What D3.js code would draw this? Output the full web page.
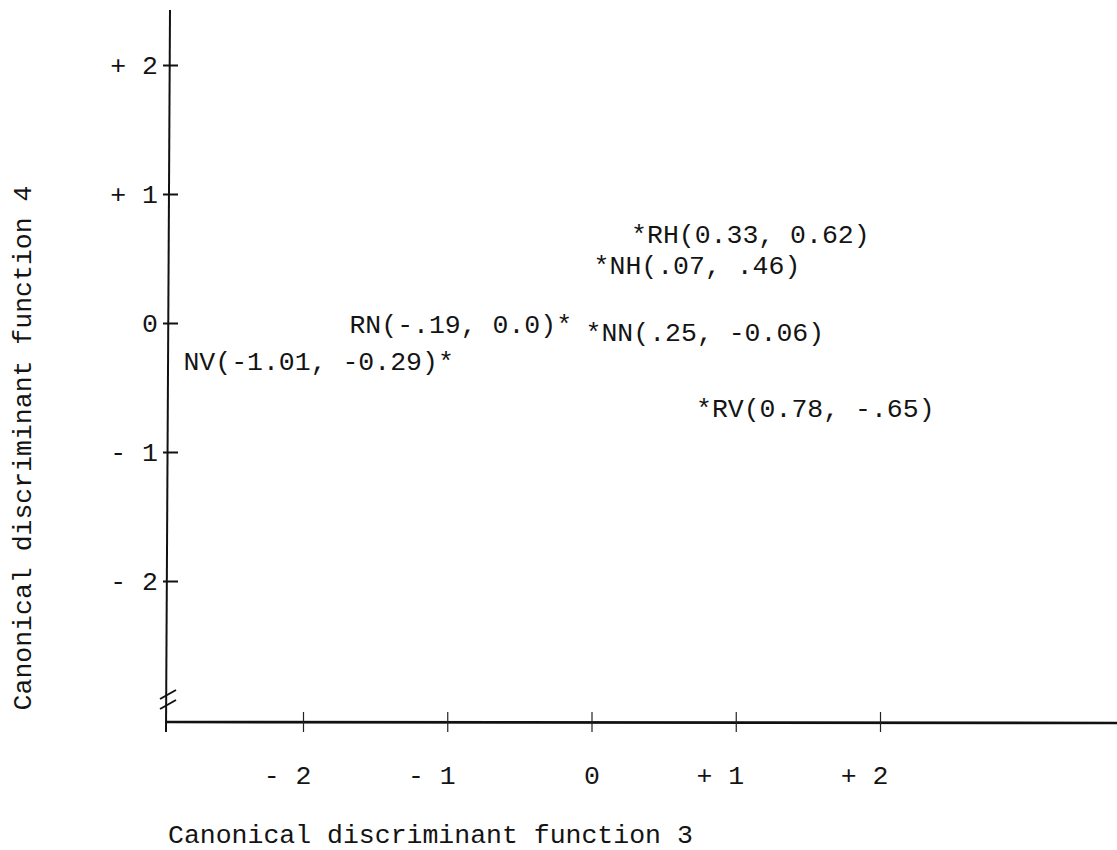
<!DOCTYPE html>
<html>
<head>
<meta charset="utf-8">
<script src="https://cdn.jsdelivr.net/npm/d3@7"></script>
<style>
  html, body { margin: 0; padding: 0; background: #fff; }
  svg text { font-family: "Liberation Mono", "DejaVu Sans Mono", monospace; fill: #141414; }
</style>
</head>
<body>
<svg id="chart" width="1117" height="850"></svg>
<script>
// ---- data ----
const groups   = ["RH", "NH", "RN", "NN", "NV", "RV"];
const labels   = ["RH(0.33, 0.62)", "NH(.07, .46)", "RN(-.19, 0.0)", "NN(.25, -0.06)", "NV(-1.01, -0.29)", "RV(0.78, -.65)"];
const fn3      = [0.33, 0.07, -0.19, 0.25, -1.01, 0.78];
const fn4      = [0.62, 0.46, 0.00, -0.06, -0.29, -0.65];
const starSide = ["left", "left", "right", "left", "right", "left"];
const xTicks   = [-2, -1, 0, 1, 2];
const xTickLabels = ["- 2", "- 1", "0", "+ 1", "+ 2"];
const yTicks   = [2, 1, 0, -1, -2];
const yTickLabels = ["+ 2", "+ 1", "0", "- 1", "- 2"];
const xTitle = "Canonical discriminant function 3";
const yTitle = "Canonical discriminant function 4";

// ---- layout (label placement nudges, as typed in the original) ----
const labelNudge = { RH: [0, -10], NN: [-34, 0] };

const svg = d3.select("#chart");
const FS = 26.5;
const axisX = 168, axisY = 722;
const x = d3.scaleLinear().domain([-2, 2]).range([303, 880]);
const y = d3.scaleLinear().domain([-2, 2]).range([581, 65]);

// y axis line
svg.append("line").attr("x1", 170).attr("y1", 10).attr("x2", 166).attr("y2", 732)
  .attr("stroke", "#111").attr("stroke-width", 2);
// x axis line
svg.append("line").attr("x1", 165).attr("y1", 722).attr("x2", 1117).attr("y2", 723)
  .attr("stroke", "#111").attr("stroke-width", 2.6);

// axis break marks
[694, 704].forEach(by => {
  svg.append("line").attr("x1", 160).attr("y1", by + 5).attr("x2", 176).attr("y2", by - 4)
    .attr("stroke", "#111").attr("stroke-width", 2);
});

// y ticks via d3 axis
const yAxis = d3.axisLeft(y).tickValues(yTicks)
  .tickFormat((d, i) => yTickLabels[i]).tickSize(0).tickPadding(0);
const gy = svg.append("g").attr("transform", `translate(${axisX},0)`).call(yAxis);
gy.select(".domain").remove();
gy.selectAll(".tick line").attr("x1", -5).attr("x2", 10).attr("stroke", "#111").attr("stroke-width", 2);
gy.selectAll(".tick text").attr("x", -10).attr("dy", "0.32em")
  .style("font-size", FS + "px").attr("font-family", null).attr("text-anchor", "end");

// x ticks via d3 axis
const xAxis = d3.axisBottom(x).tickValues(xTicks)
  .tickFormat((d, i) => xTickLabels[i]).tickSize(0).tickPadding(0);
const gx = svg.append("g").attr("transform", `translate(0,${axisY})`).call(xAxis);
gx.select(".domain").remove();
gx.selectAll(".tick line").attr("y1", -10).attr("y2", 10).attr("stroke", "#222").attr("stroke-width", 1.2);
gx.selectAll(".tick text").attr("x", 8).attr("y", 62).attr("dy", 0)
  .style("font-size", FS + "px").attr("font-family", null).attr("text-anchor", "end");

// axis titles
svg.append("text").attr("x", 168).attr("y", 843)
  .style("font-size", FS + "px").text(xTitle);
svg.append("text").attr("transform", "translate(31,448) rotate(-90)")
  .attr("text-anchor", "middle").style("font-size", FS + "px").text(yTitle);

// points as typed labels: the asterisk sits at the point
const pts = groups.map((g, i) => ({ g, label: labels[i], x: fn3[i], y: fn4[i], side: starSide[i] }));
svg.append("g").selectAll("text.pt").data(pts).join("text")
  .attr("class", "pt")
  .attr("x", d => (d.side === "left" ? x(d.x) - 8 : x(d.x) + 8) + (labelNudge[d.g] ? labelNudge[d.g][0] : 0))
  .attr("y", d => y(d.y) + 10 + (labelNudge[d.g] ? labelNudge[d.g][1] : 0))
  .attr("text-anchor", d => d.side === "left" ? "start" : "end")
  .style("font-size", FS + "px")
  .text(d => d.side === "left" ? "*" + d.label : d.label + "*");
</script>
</body>
</html>
